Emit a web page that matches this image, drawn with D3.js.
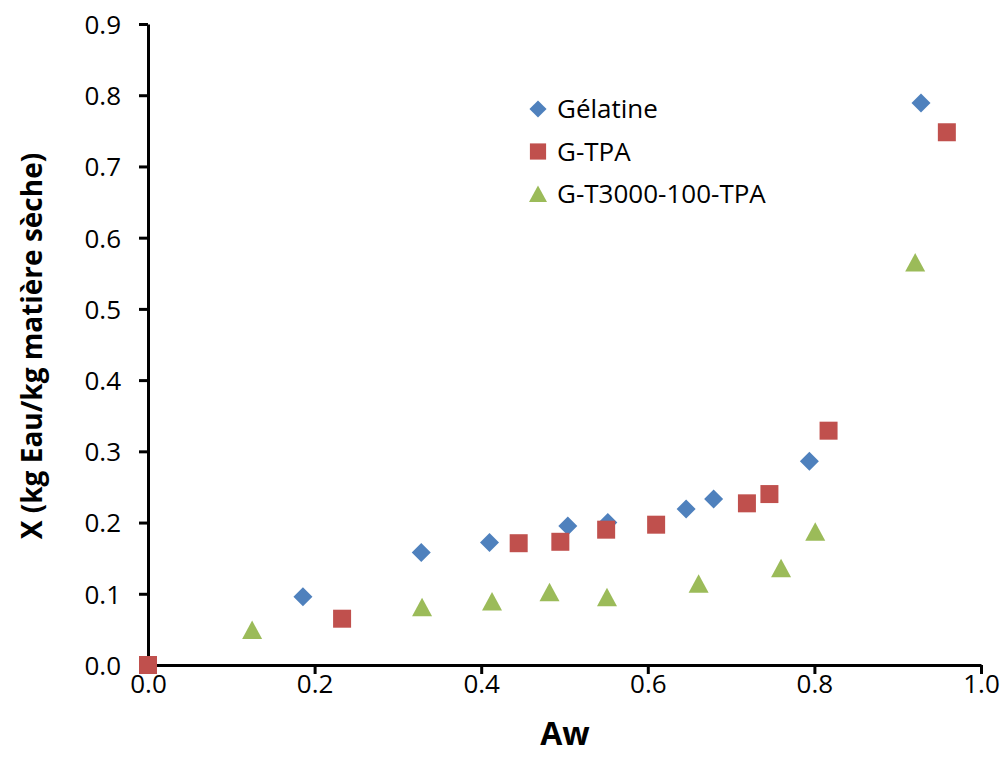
<!DOCTYPE html>
<html>
<head>
<meta charset="utf-8">
<script src="https://cdn.jsdelivr.net/npm/d3@7"></script>
<style>
  html, body { margin: 0; padding: 0; background: #fff; }
  svg { display: block; }
  text { font-family: "Open Sans", "Noto Sans", sans-serif; fill: #000; }
</style>
</head>
<body>
<svg id="chart" width="1005" height="767"></svg>
<script>
// ---- Data ----
const seriesNames = ["Gélatine", "G-TPA", "G-T3000-100-TPA"];
const seriesColors = ["#4F81BD", "#C0504D", "#9BBB59"];
const seriesShapes = ["diamond", "square", "triangle"];

const gelatineAw = [0.186, 0.328, 0.410, 0.504, 0.552, 0.646, 0.679, 0.794, 0.928];
const gelatineX  = [0.096, 0.158, 0.172, 0.195, 0.200, 0.219, 0.233, 0.286, 0.789];

const gtpaAw = [0.000, 0.233, 0.445, 0.495, 0.550, 0.610, 0.719, 0.746, 0.817, 0.959];
const gtpaX  = [0.000, 0.065, 0.171, 0.173, 0.190, 0.197, 0.227, 0.240, 0.329, 0.748];

const gt3000Aw = [0.125, 0.329, 0.413, 0.482, 0.551, 0.661, 0.760, 0.801, 0.921];
const gt3000X  = [0.049, 0.081, 0.089, 0.102, 0.095, 0.114, 0.136, 0.187, 0.565];

const xTicks = [0.0, 0.2, 0.4, 0.6, 0.8, 1.0];
const yTicks = [0.0, 0.1, 0.2, 0.3, 0.4, 0.5, 0.6, 0.7, 0.8, 0.9];
const xTitle = "Aw";
const yTitle = "X (kg Eau/kg matière sèche)";

// ---- Layout ----
const svg = d3.select("#chart");
const mLeft = 148, mRight = 981, mTop = 24, mBottom = 665;

const x = d3.scaleLinear().domain([0, 1]).range([mLeft, mRight]);
const y = d3.scaleLinear().domain([0, 0.9]).range([mBottom, mTop]);

// Axes
const yAxis = d3.axisLeft(y).tickValues(yTicks).tickFormat(d3.format(".1f"))
  .tickSize(9).tickSizeOuter(0).tickPadding(18);
const xAxis = d3.axisBottom(x).tickValues(xTicks).tickFormat(d3.format(".1f"))
  .tickSize(9).tickSizeOuter(0).tickPadding(1);

const gy = svg.append("g").attr("transform", `translate(${mLeft},0)`).call(yAxis);
const gx = svg.append("g").attr("transform", `translate(0,${mBottom})`).call(xAxis);
[gx, gy].forEach(g => {
  g.select(".domain").attr("stroke", "#000").attr("stroke-width", 3);
  g.selectAll(".tick line").attr("stroke", "#000").attr("stroke-width", 3);
  g.selectAll(".tick text").attr("font-size", 26).attr("font-family", "Open Sans").attr("fill", "#000");
});
gy.selectAll(".tick text").attr("dy", "0.36em");

// Axis titles
svg.append("text")
  .attr("x", 565).attr("y", 745)
  .attr("text-anchor", "middle").attr("font-size", 32).attr("font-weight", "bold")
  .text(xTitle);

svg.append("text")
  .attr("transform", `translate(42,${346}) rotate(-90)`)
  .attr("text-anchor", "middle").attr("font-size", 28).attr("font-weight", "bold")
  .text(yTitle);

// Marker shapes
function shapePath(shape) {
  if (shape === "diamond") return "M0,-9.5L9.5,0L0,9.5L-9.5,0Z";
  if (shape === "square") return "M-9,-9H9V9H-9Z";
  return "M0,-9.5L10,9H-10Z";
}

const series = [
  { aw: gelatineAw, xv: gelatineX },
  { aw: gtpaAw, xv: gtpaX },
  { aw: gt3000Aw, xv: gt3000X }
];

series.forEach((s, i) => {
  const pts = s.aw.map((a, j) => ({ a, v: s.xv[j] }));
  svg.append("g").selectAll("path").data(pts).enter().append("path")
    .attr("d", shapePath(seriesShapes[i]))
    .attr("transform", d => `translate(${x(d.a)},${y(d.v)})`)
    .attr("fill", seriesColors[i]);
});

// Legend
const legendX = 538, legendY0 = 109, legendStep = 42.5;
const lg = svg.append("g");
seriesNames.forEach((name, i) => {
  const yy = legendY0 + i * legendStep;
  lg.append("path").attr("d", shapePath(seriesShapes[i]))
    .attr("transform", `translate(${legendX},${yy}) scale(0.9)`)
    .attr("fill", seriesColors[i]);
  lg.append("text").attr("x", legendX + 19).attr("y", yy).attr("dy", "0.36em")
    .attr("font-size", 26).text(name);
});
</script>
</body>
</html>
